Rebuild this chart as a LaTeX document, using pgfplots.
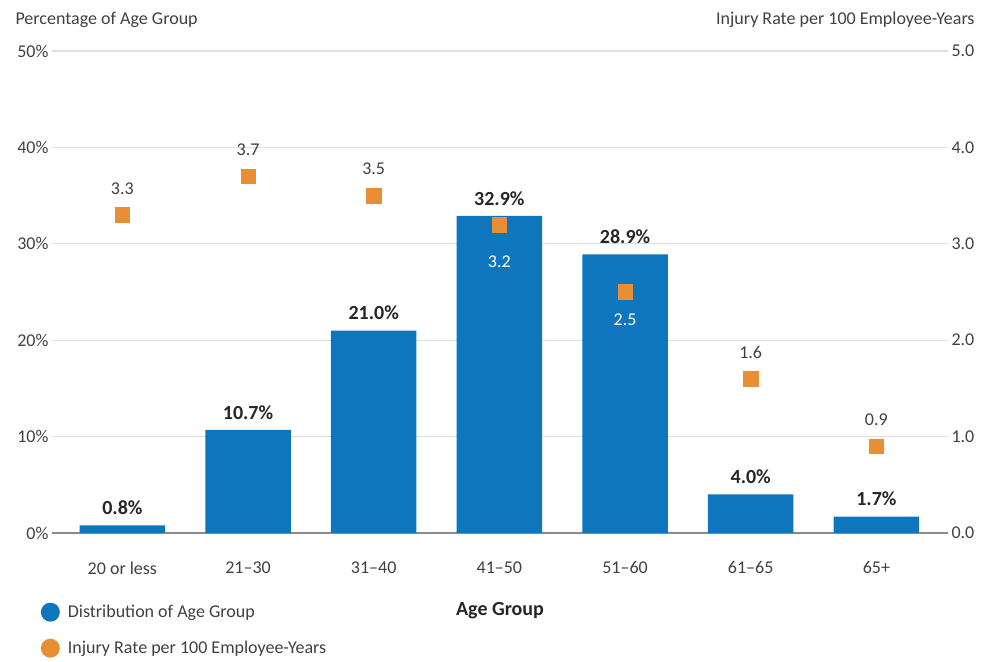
\documentclass[border=0pt]{standalone}
\usepackage{fontspec}
\setmainfont{Carlito}
\usepackage{pgfplots}
\pgfplotsset{compat=1.18}
\definecolor{barblue}{HTML}{0E76BC}
\definecolor{orng}{HTML}{E88F36}
\definecolor{gridgray}{HTML}{DEDEDE}
\definecolor{txtgray}{HTML}{404040}
\definecolor{basegray}{HTML}{8A8A8A}
\newcommand{\f}{\fontsize{18}{21}\selectfont}
\newcommand{\fb}{\fontsize{20}{24}\selectfont\bfseries}
\begin{document}
\begin{tikzpicture}
\useasboundingbox (0,0) rectangle (982pt,661pt);
\pgfplotsset{
  base/.style={at={(52pt,128pt)}, anchor=south west, scale only axis,
    width=896pt, height=482pt, xmin=-0.56, xmax=6.57, clip=false,
    /pgf/number format/assume math mode=true,
    tick label style={font=\f, text=txtgray}, major tick length=0pt},
  sq/.style={forget plot, only marks, mark=square*, mark size=7.3pt,
    mark options={fill=orng, draw=orng}, point meta=y,
    nodes near coords={\pgfmathprintnumber[fixed,fixed zerofill,precision=1]{\pgfplotspointmeta}}},
}
\begin{axis}[base,
  ymin=0, ymax=50, ytick={0,10,...,50},
  yticklabel={\pgfmathprintnumber{\tick}\%},
  ymajorgrids, grid style={gridgray, line width=1.2pt},
  axis x line*=bottom, axis y line*=left,
  y axis line style={draw=none},
  x axis line style={draw=basegray, line width=1.5pt, -},
  xtick={0,...,6},
  xticklabels={20 or less,21--30,31--40,41--50,51--60,61--65,65+},
  xticklabel style={yshift=-25pt},
  ylabel={Percentage of Age Group},
  every axis y label/.style={at={(axis description cs:0,1)}, anchor=west,
    xshift=-40pt, yshift=31pt, font=\f, text=txtgray},
  xlabel={Age Group},
  every axis x label/.style={at={(axis description cs:0.5,0)}, anchor=center,
    yshift=-78pt, font=\fb, text=black!85},
]
\addplot[ybar, bar width=0.68, fill=barblue, draw=none,
  point meta=y,
  nodes near coords={\pgfmathprintnumber[fixed,fixed zerofill,precision=1]{\pgfplotspointmeta}\%},
  nodes near coords style={font=\fb, text=black!85, yshift=7pt}]
  coordinates {(0,0.8) (1,10.7) (2,21.0) (3,32.9) (4,28.9) (5,4.0) (6,1.7)};
\end{axis}
\begin{axis}[base,
  ymin=0, ymax=5, ytick={0,1,...,5},
  yticklabel style={/pgf/number format/.cd, fixed, fixed zerofill, precision=1},
  axis x line=none, axis y line*=right, y axis line style={draw=none},
  ylabel={Injury Rate per 100 Employee-Years},
  every axis y label/.style={at={(axis description cs:1,1)}, anchor=east,
    xshift=30pt, yshift=31pt, font=\f, text=txtgray},
  legend style={at={(axis description cs:-0.016,-0.14)}, anchor=north west,
    draw=none, fill=none, font=\f, text=txtgray, row sep=17pt},
  legend cell align=left,
]
\addlegendimage{legend image code/.code={\path[draw=none,fill=none] (0pt,-0.1pt) rectangle (25pt,0.1pt); \fill[barblue,draw=none] (9.5pt,0pt) circle (9.5pt);}}
\addlegendentry{Distribution of Age Group}
\addlegendimage{legend image code/.code={\path[draw=none,fill=none] (0pt,-0.1pt) rectangle (25pt,0.1pt); \fill[orng,draw=none] (9.5pt,0pt) circle (9.5pt);}}
\addlegendentry{Injury Rate per 100 Employee-Years}
\addplot[sq, nodes near coords style={font=\f, text=txtgray, yshift=17pt}]
  coordinates {(0,3.3) (1,3.7) (2,3.5) (5,1.6) (6,0.9)};
\addplot[sq, nodes near coords style={font=\f, text=white, anchor=north, yshift=-28pt}]
  coordinates {(3,3.2)};
\addplot[sq, nodes near coords style={font=\f, text=white, anchor=north, yshift=-18pt}]
  coordinates {(4,2.5)};
\end{axis}
\end{tikzpicture}
\end{document}
